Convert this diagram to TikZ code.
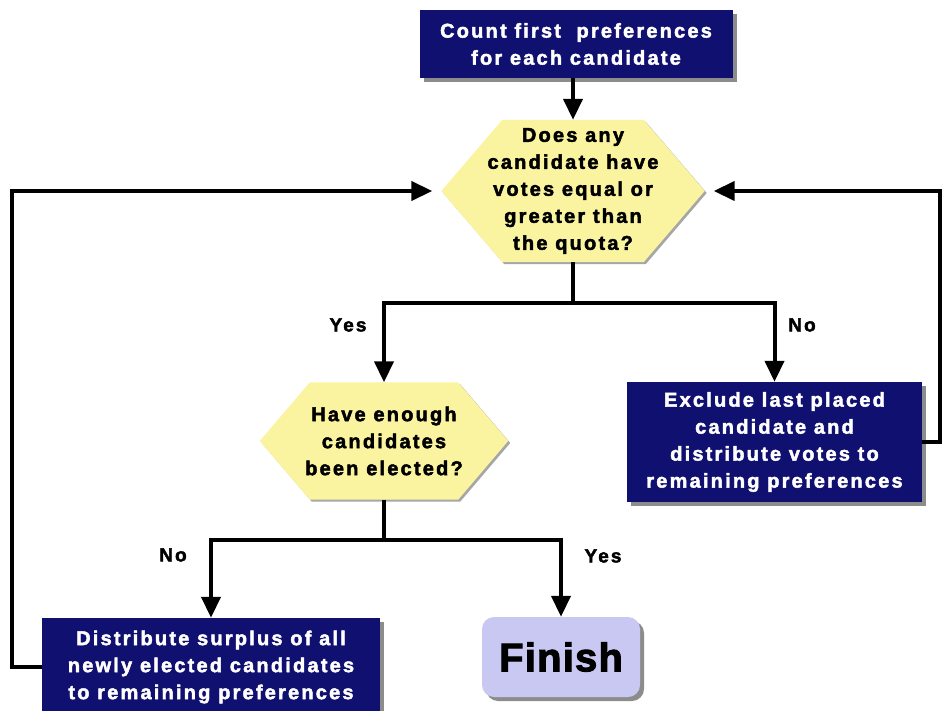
\documentclass[tikz,border=0pt]{standalone}
\usepackage{fontspec}
\usetikzlibrary{arrows.meta,shadows,backgrounds,calc}
\newfontfamily\heavy{Liberation Sans Bold}[LetterSpace=11,FakeBold=2.2]
\newfontfamily\heavyfin{Liberation Sans Bold}[LetterSpace=3,FakeBold=2.5]
\definecolor{boxnavy}{RGB}{16,16,112}
\definecolor{hexyellow}{RGB}{250,243,160}
\definecolor{finlav}{RGB}{200,200,242}
\newcommand\hexshape[2]{%
  \fill[black!35,transform canvas={shift={(2pt,-2pt)}}] (#1.west) -- ([xshift=#2]#1.north west) -- ([xshift=-#2]#1.north east) -- (#1.east) -- ([xshift=-#2]#1.south east) -- ([xshift=#2]#1.south west) -- cycle;
  \fill[hexyellow] (#1.west) -- ([xshift=#2]#1.north west) -- ([xshift=-#2]#1.north east) -- (#1.east) -- ([xshift=-#2]#1.south east) -- ([xshift=#2]#1.south west) -- cycle;}
\begin{document}
\begin{tikzpicture}[x=1pt,y=-1pt,
  txt/.style={font=\heavy\fontsize{20}{27}\selectfont, align=center},
  bluebox/.style={txt, fill=boxnavy, text=white, inner sep=0pt,
    drop shadow={shadow xshift=4pt,shadow yshift=-4pt,fill=black!45,opacity=1}},
  hexnode/.style={txt, inner sep=0pt},
  finbox/.style={fill=finlav, rounded corners=12pt, minimum width=158pt, minimum height=80pt,
    font=\heavyfin\fontsize{40}{44}\selectfont,
    drop shadow={shadow xshift=4pt,shadow yshift=-4pt,fill=black!45,opacity=1}},
  arr/.style={line width=4pt, -{Triangle[width=19pt,length=21pt]}},
  wire/.style={line width=4pt},
  lbl/.style={font=\heavy\fontsize{19}{23}\selectfont}]
\useasboundingbox (0,0) rectangle (942,711);

\node[bluebox, minimum width=313pt, minimum height=68pt] (count) at (576,44) {Count first\ \ preferences\\for each candidate};
\node[hexnode, minimum width=263pt, minimum height=142pt] (q1) at (573,191) {Does any\\candidate have\\votes equal or\\greater than\\the quota?};
\node[hexnode, minimum width=248pt, minimum height=117pt] (q2) at (384,441) {Have enough\\candidates\\been elected?};
\node[bluebox, minimum width=295pt, minimum height=120pt] (excl) at (774.5,442) {Exclude last placed\\candidate and\\distribute votes to\\remaining preferences};
\node[bluebox, minimum width=338pt, minimum height=98pt] (dist) at (211,667) {Distribute surplus of all\\newly elected candidates\\to remaining preferences};
\node[finbox] (fin) at (561,657) {Finish};

\begin{scope}[on background layer]
  \hexshape{q1}{61pt}
  \hexshape{q2}{50pt}
\end{scope}

\node[lbl] (yes1) at (348,325) {Yes};
\node[lbl] (no1) at (802,325) {No};
\node[lbl] (no2) at (173,555) {No};
\node[lbl] (yes2) at (603,556) {Yes};

\draw[arr] (count.south -| q1.north) -- (q1.north);
\draw[wire] (q1.south) -- ++(0,41) coordinate (s1);
\draw[arr] (s1) -| (q2.north);
\draw[arr] (s1) -| (excl.north);
\draw[wire] (q2.south) -- ++(0,40) coordinate (s2);
\draw[arr] (s2) -| (dist.north);
\draw[arr] (s2) -| (fin.north);
\draw[arr, shorten >=9pt] (dist.west) -- ++(-30,0) |- (q1.west);
\draw[arr, shorten >=9pt] (excl.east) -- ++(18,0) |- (q1.east);
\end{tikzpicture}
\end{document}
